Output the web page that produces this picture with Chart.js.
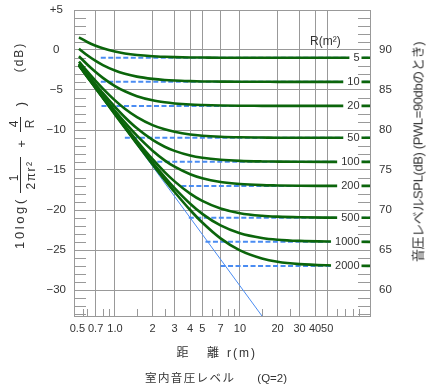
<!DOCTYPE html>
<html><head><meta charset="utf-8">
<script src="https://cdn.jsdelivr.net/npm/chart.js@4.4.1/dist/chart.umd.min.js"></script>
<style>
html,body{margin:0;padding:0;background:#fff;}
#wrap{position:relative;width:441px;height:385px;overflow:hidden;background:#fff;}
#c{position:absolute;left:0;top:0;}
.t{position:absolute;white-space:nowrap;color:#333;font-family:"Liberation Sans","Noto Sans CJK JP",sans-serif;line-height:1;}
.rot{transform:translate(-50%,-50%) rotate(-90deg);}
.bar{position:absolute;background:#333;width:1px;}
</style></head><body>
<div id="wrap">
<canvas id="c" width="441" height="385"></canvas>
<!-- left axis title: 10log( 1/(2πr²) + 4/R )  (dB) -->
<div class="t rot" style="left:18.5px;top:222.5px;font-size:13px;letter-spacing:2.6px;">10log(</div>
<div class="t rot" style="left:14px;top:177.5px;font-size:12px;">1</div>
<div class="bar" style="left:20px;top:157px;height:36px;"></div>
<div class="t rot" style="left:30.5px;top:175px;font-size:12px;letter-spacing:1.5px;">2πr²</div>
<div class="t rot" style="left:20.5px;top:144px;font-size:13px;">+</div>
<div class="t rot" style="left:13.5px;top:124px;font-size:12px;">4</div>
<div class="bar" style="left:20px;top:117px;height:15px;"></div>
<div class="t rot" style="left:30px;top:124px;font-size:12px;">R</div>
<div class="t rot" style="left:20px;top:104px;font-size:13px;">)</div>
<div class="t rot" style="left:19px;top:57px;font-size:12px;letter-spacing:2px;">(dB)</div>
<!-- right axis title -->
<div id="rtitle" class="t rot" style="left:418px;top:151.7px;font-size:13px;">音圧レベルSPL(dB) (PWL=90dbのとき)</div>
<!-- R(m2) -->
<div class="t" style="left:310px;top:35px;font-size:12px;">R(m²)</div>
<!-- bottom titles -->
<div class="t" style="left:176.5px;top:347px;font-size:12px;">距<span style="margin-left:18.5px">離</span><span style="margin-left:8px;letter-spacing:2px">r(m)</span></div>
<div class="t" style="left:145px;top:373px;font-size:11.5px;"><span style="letter-spacing:1.4px">室内音圧レベル</span><span style="margin-left:22px">(Q=2)</span></div>
</div>
<script>
// ---- data ----
const rAxis = [0.515, 0.6, 0.7, 0.8, 1.0, 1.2, 1.5, 2, 2.5, 3, 4, 5, 7, 10, 15, 20, 30, 50, 110];
const lvR5    = [1.57, 1.00, 0.53, 0.21, -0.20, -0.44, -0.63, -0.78, -0.85, -0.89, -0.93, -0.94, -0.96, -0.96, -0.97, -0.97, -0.97, -0.97, -0.97];
const lvR10   = [0.16, -0.66, -1.36, -1.88, -2.56, -2.97, -3.33, -3.61, -3.75, -3.82, -3.89, -3.93, -3.95, -3.97, -3.97, -3.98, -3.98, -3.98, -3.98];
const lvR20   = [-0.78, -1.81, -2.75, -3.48, -4.51, -5.16, -5.77, -6.29, -6.54, -6.68, -6.82, -6.88, -6.94, -6.97, -6.98, -6.99, -6.99, -6.99, -6.99];
const lvR50   = [-1.45, -2.68, -3.87, -4.83, -6.30, -7.34, -8.39, -9.39, -9.92, -10.23, -10.56, -10.71, -10.84, -10.91, -10.94, -10.96, -10.96, -10.97, -10.97];
const lvR100  = [-1.70, -3.02, -4.31, -5.40, -7.11, -8.40, -9.79, -11.24, -12.09, -12.61, -13.19, -13.47, -13.72, -13.86, -13.93, -13.95, -13.97, -13.98, -13.98];
const lvR200  = [-1.83, -3.20, -4.55, -5.71, -7.59, -9.05, -10.71, -12.59, -13.79, -14.59, -15.53, -16.03, -16.49, -16.75, -16.89, -16.93, -16.97, -16.98, -16.99];
const lvR500  = [-1.91, -3.30, -4.70, -5.91, -7.90, -9.49, -11.37, -13.65, -15.26, -16.42, -17.96, -18.87, -19.82, -20.40, -20.72, -20.83, -20.91, -20.95, -20.97];
const lvR1000 = [-1.93, -3.34, -4.76, -5.98, -8.00, -9.64, -11.62, -14.08, -15.88, -17.26, -19.21, -20.48, -21.93, -22.90, -23.49, -23.71, -23.86, -23.94, -23.98];
const lvR2000 = [-1.95, -3.36, -4.78, -6.01, -8.06, -9.73, -11.74, -14.30, -16.23, -17.75, -20.00, -21.57, -23.55, -25.05, -26.06, -26.47, -26.76, -26.91, -26.99];
const roomLabels = ['5', '10', '20', '50', '100', '200', '500', '1000', '2000'];
const reverbLv   = [-0.97, -3.98, -6.99, -10.97, -13.98, -16.99, -20.97, -23.98, -26.99];
const dashStartR = [0.77, 0.77, 0.78, 1.2, 1.9, 3.4, 3.9, 5.3, 7.0];
const dashEndR   = 110;
const directR  = [0.515, 20];
const directLv = [-1.96, -35.9];
const xTickVals   = [0.5, 0.7, 1, 2, 3, 4, 5, 7, 10, 20, 30, 40, 50];
const xTickLabels = ['0.5', '0.7', '1.0', '2', '3', '4', '5', '7', '10', '20', '30', '40', '50'];
const xMinorVals  = [0.55, 0.6, 0.8, 0.9, 1.5, 2.5, 6, 8, 9, 15, 25, 60, 70, 80, 90];
const yTickVals   = [5, 0, -5, -10, -15, -20, -25, -30];
const yTickLabels = ['+5', '0', '−5', '−10', '−15', '−20', '−25', '−30'];
const splTickVals = [90, 85, 80, 75, 70, 65, 60];
const splOffset = 90;

// ---- styling ----
const GREEN = '#0b650b', BLUE = '#4a8cf2', GRID = '#999', TXT = '#333';
const NARROW = "'Liberation Sans Narrow','Liberation Sans',sans-serif";
const REG = "'Liberation Sans',sans-serif";

const curves = [lvR5, lvR10, lvR20, lvR50, lvR100, lvR200, lvR500, lvR1000, lvR2000];
const datasets = [];
curves.forEach(arr => datasets.push({
  data: rAxis.map((r, j) => ({x: r, y: arr[j]})),
  borderColor: GREEN, borderWidth: 2.6, pointRadius: 0,
  cubicInterpolationMode: 'monotone', fill: false, order: 0
}));
reverbLv.forEach((v, i) => datasets.push({
  data: [{x: dashStartR[i], y: v}, {x: dashEndR, y: v}],
  borderColor: BLUE, borderWidth: 2, borderDash: [5, 2.5], pointRadius: 0, fill: false, order: 1
}));
datasets.push({
  data: directR.map((r, j) => ({x: r, y: directLv[j]})),
  borderColor: BLUE, borderWidth: 1, pointRadius: 0, fill: false, order: 2
});

const minorPlugin = {
  id: 'minorTicks',
  beforeDatasetsDraw(chart) {
    const {ctx, chartArea: a, scales: {x, y}} = chart;
    ctx.save();
    ctx.strokeStyle = GRID; ctx.lineWidth = 1;
    ctx.beginPath();
    for (let v = Math.ceil(y.min); v < y.max; v++) {
      if (v % 5 === 0) continue;
      const py = Math.round(y.getPixelForValue(v)) + 0.5;
      ctx.moveTo(a.left, py); ctx.lineTo(a.left + 12, py);
      ctx.moveTo(a.right - 12, py); ctx.lineTo(a.right, py);
    }
    xMinorVals.forEach(v => {
      const px = Math.round(x.getPixelForValue(v)) + 0.5;
      ctx.moveTo(px, a.bottom); ctx.lineTo(px, a.bottom - 7);
    });
    ctx.stroke();
    ctx.restore();
  }
};

const labelPlugin = {
  id: 'roomLabels',
  afterDatasetsDraw(chart) {
    const {ctx, chartArea: a, scales: {y}} = chart;
    ctx.save();
    ctx.font = '11px ' + REG;
    ctx.textAlign = 'right'; ctx.textBaseline = 'middle';
    const xr = a.right - 10.5;
    roomLabels.forEach((t, i) => {
      const py = y.getPixelForValue(reverbLv[i]);
      const w = ctx.measureText(t).width;
      ctx.fillStyle = '#fff';
      ctx.fillRect(xr - w - 4, py - 5, w + 6, 10);
      ctx.fillStyle = TXT;
      ctx.fillText(t, xr, py + 0.5);
    });
    ctx.restore();
  }
};

function fixV(w) { return s => { s.width = w; s.paddingTop = 0; s.paddingBottom = 0; }; }

new Chart(document.getElementById('c'), {
  type: 'line',
  data: {datasets},
  options: {
    responsive: false, animation: false, devicePixelRatio: 1,
    layout: {padding: {top: 10, left: 0, right: 0, bottom: 0}},
    plugins: {legend: {display: false}, tooltip: {enabled: false}},
    scales: {
      x: {
        type: 'logarithmic', min: 0.47, max: 110, position: 'bottom',
        afterFit(s) { s.height = 69; s.paddingLeft = 0; s.paddingRight = 0; },
        afterBuildTicks(s) { s.ticks = xTickVals.map(v => ({value: v})); },
        ticks: {autoSkip: false, maxRotation: 0, minRotation: 0, padding: 6, color: TXT,
                font: {family: NARROW, size: 11}, callback: (v, i) => xTickLabels[i]},
        grid: {color: c => (c.tick && c.tick.value === 0.5) ? 'rgba(0,0,0,0)' : GRID, drawTicks: false, lineWidth: 1},
        border: {display: true, color: GRID, width: 1}
      },
      y: {
        type: 'linear', position: 'left', min: -33.25, max: 5,
        afterFit: fixV(74),
        afterBuildTicks(s) { s.ticks = yTickVals.map(v => ({value: v})); },
        ticks: {autoSkip: false, padding: 8, crossAlign: 'center', color: TXT,
                font: {family: NARROW, size: 11.5}, callback: (v, i) => yTickLabels[i]},
        grid: {color: GRID, drawTicks: false, lineWidth: 1},
        border: {display: true, color: GRID, width: 1}
      },
      y2: {
        type: 'linear', position: 'right', min: -33.25 + splOffset, max: 5 + splOffset,
        afterFit: fixV(71),
        afterBuildTicks(s) { s.ticks = splTickVals.map(v => ({value: v})); },
        ticks: {autoSkip: false, padding: 9, color: TXT,
                font: {family: NARROW, size: 11.5}, callback: v => String(v)},
        grid: {display: false, drawTicks: false},
        border: {display: true, color: GRID, width: 1}
      }
    }
  },
  plugins: [minorPlugin, labelPlugin]
});

// fit the right title to the reference length
const rt = document.getElementById('rtitle');
const w0 = rt.offsetWidth;
rt.style.letterSpacing = ((220 - w0) / rt.textContent.length) + 'px';
</script>
</body></html>
